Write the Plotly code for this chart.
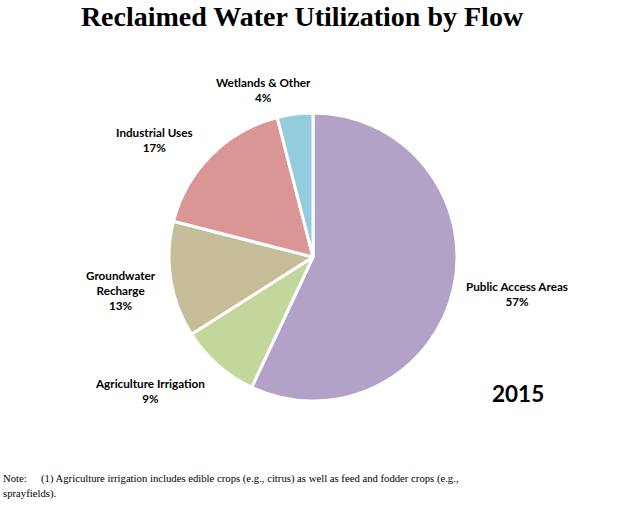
import plotly.graph_objects as go

categories = ["Public Access Areas", "Agriculture Irrigation", "Groundwater<br>Recharge",
              "Industrial Uses", "Wetlands & Other"]
values = [57, 9, 13, 17, 4]
colors = ["#B3A2C7", "#C3D69B", "#C4BD97", "#D99694", "#93CDDD"]
label_pos = [(517, 293), (150, 390), (121, 290), (154, 139), (263, 90)]

W, H = 624, 505
cx, cy, r = 313, 257, 144

fig = go.Figure(go.Pie(
    labels=categories, values=values, sort=False, direction="clockwise", rotation=0,
    marker=dict(colors=colors, line=dict(color="white", width=3)),
    textinfo="none", hoverinfo="label+percent",
    domain=dict(x=[(cx - r) / W, (cx + r) / W], y=[(H - cy - r) / H, (H - cy + r) / H]),
    showlegend=False,
))

total = sum(values)
annotations = []
lab_font = dict(family="Lato, Open Sans, sans-serif", size=11.7, color="#000000")
for cat, v, (x, y) in zip(categories, values, label_pos):
    annotations.append(dict(
        x=x / W, y=1 - y / H, xref="paper", yref="paper", showarrow=False,
        text="<b>%s<br>%d%%</b>" % (cat, round(100 * v / total)),
        font=lab_font, xanchor="center", yanchor="middle", align="center"))

annotations.append(dict(x=518 / W, y=1 - 393 / H, xref="paper", yref="paper", showarrow=False,
                        text="<b>2015</b>", font=dict(family="Lato, sans-serif", size=22.5, color="#000"),
                        xanchor="center", yanchor="middle"))
note_font = dict(family="Liberation Serif, serif", size=10.7, color="#000")
annotations.append(dict(x=1 / W, y=1 - 478 / H, xref="paper", yref="paper", showarrow=False,
                        text="Note:", font=note_font, xanchor="left", yanchor="middle"))
annotations.append(dict(x=39 / W, y=1 - 478 / H, xref="paper", yref="paper", showarrow=False,
                        text="(1) Agriculture irrigation includes edible crops (e.g., citrus) as well as feed and fodder crops (e.g.,",
                        font=note_font, xanchor="left", yanchor="middle"))
annotations.append(dict(x=1 / W, y=1 - 493 / H, xref="paper", yref="paper", showarrow=False,
                        text="sprayfields).", font=note_font, xanchor="left", yanchor="middle"))

fig.update_layout(
    width=W, height=H, margin=dict(l=0, r=0, t=0, b=0),
    paper_bgcolor="white", plot_bgcolor="white",
    title=dict(text="<b>Reclaimed Water Utilization by Flow</b>", x=302 / W, xanchor="center",
               y=1 - 16 / H, yanchor="middle",
               font=dict(family="Liberation Serif, serif", size=28, color="#000")),
    annotations=annotations,
)
fig.write_html("out.html", config={"displayModeBar": False},
               post_script="document.body.style.margin='0';document.body.style.overflow='hidden';")
